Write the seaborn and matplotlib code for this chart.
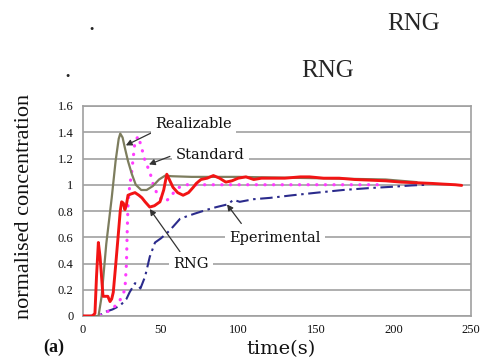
import matplotlib
matplotlib.use("Agg")
import matplotlib.pyplot as plt
import seaborn as sns
import pandas as pd

# ---- data ---------------------------------------------------------------
t_realizable = [0, 9, 10, 12, 15, 18.5, 21, 23, 24, 25.5, 27, 29, 31.5, 34, 37.5,
                41, 45, 49, 53, 57, 70, 100, 150, 195, 205, 215]
c_realizable = [0, 0, 0.0, 0.15, 0.55, 0.9, 1.18, 1.35, 1.39, 1.36, 1.28, 1.18, 1.08,
                1.0, 0.96, 0.96, 0.99, 1.04, 1.07, 1.065, 1.06, 1.06, 1.05, 1.04, 1.03, 1.02]

t_standard = [0, 10, 14, 19.5, 23.8, 27, 28, 28.5, 29, 30, 31.4, 33.5, 35.6, 37.8,
              40, 43, 45.3, 48.5, 52.8, 56, 59, 62, 65.7, 80, 120, 160, 192]
c_standard = [0, 0, 0.02, 0.06, 0.12, 0.2, 0.4, 0.65, 0.85, 0.98, 1.1, 1.33, 1.37, 1.28,
              1.18, 1.1, 1.0, 0.91, 0.87, 0.9, 0.95, 0.98, 1.0, 1.0, 1.0, 1.0, 1.0]

t_rng = [0, 6, 7.7, 8.7, 9.9, 11, 12.9, 14.5, 16, 17.4, 18.5, 19.5, 21, 22.8, 24, 24.9,
         26, 27, 28, 29, 31, 33.5, 36, 38, 40, 43, 46, 49.6, 52, 54, 56, 58, 61, 64.5,
         68, 71, 73, 76, 80, 84, 88, 92, 96, 100, 105, 110, 115, 120, 130, 140, 146,
         155, 165, 175, 185, 195, 205, 215, 225, 232, 240, 244]
c_rng = [0, 0, 0.02, 0.3, 0.56, 0.45, 0.15, 0.15, 0.15, 0.11, 0.13, 0.18, 0.38, 0.63, 0.8,
         0.87, 0.86, 0.81, 0.85, 0.92, 0.93, 0.94, 0.92, 0.9, 0.87, 0.83, 0.84, 0.87, 0.96,
         1.08, 1.03, 0.98, 0.94, 0.92, 0.94, 0.98, 1.01, 1.04, 1.05, 1.07, 1.05, 1.02, 1.03,
         1.05, 1.06, 1.04, 1.05, 1.05, 1.05, 1.06, 1.06, 1.05, 1.05, 1.04, 1.035, 1.03, 1.02,
         1.015, 1.01, 1.005, 1.0, 0.995]

t_exp = [0, 10, 14, 19, 24, 28, 30, 33.5, 35, 37, 40, 43, 46.4, 50, 54, 58, 62.5, 67, 72,
         80, 86, 93, 97, 101, 110, 120.5, 135, 151, 167.5, 185, 200, 212, 222]
c_exp = [0, 0, 0.03, 0.05, 0.08, 0.13, 0.18, 0.25, 0.24, 0.21, 0.3, 0.45, 0.56, 0.59, 0.63,
         0.68, 0.74, 0.76, 0.78, 0.81, 0.83, 0.85, 0.885, 0.87, 0.89, 0.9, 0.92, 0.94, 0.96,
         0.975, 0.985, 0.995, 1.0]

y_ticks = [0, 0.2, 0.4, 0.6, 0.8, 1.0, 1.2, 1.4, 1.6]
y_tick_labels = ["0", "0.2", "0.4", "0.6", "0.8", "1", "1.2", "1.4", "1.6"]
x_ticks = [0, 50, 100, 150, 200, 250]

# label text, label position, arrow start, arrow tip
labels = [
    ("Realizable", (71, 1.466), (44, 1.395), (27.6, 1.30)),
    ("Standard", (82, 1.23), (56, 1.216), (42.5, 1.155)),
    ("RNG", (69.6, 0.40), (62.5, 0.49), (43, 0.815)),
    ("Eperimental", (123.7, 0.597), (102, 0.705), (92.8, 0.85)),
]

# ---- figure -------------------------------------------------------------
sns.set_style("white")
plt.rcParams["font.family"] = ["Liberation Serif", "DejaVu Serif"]

fig = plt.figure(figsize=(4.85, 3.61), dpi=100)
ax = fig.add_axes([83 / 485, 1 - 316 / 361, 388 / 485, 210 / 361])

sns.lineplot(x=t_exp, y=c_exp, ax=ax, color="#2b2b8c", lw=1.5,
             linestyle=(0, (6, 2.2, 1.2, 2.2)), estimator=None, sort=False, zorder=2)
sns.lineplot(x=t_standard, y=c_standard, ax=ax, color="#ff3cff", lw=2.3,
             linestyle=(0, (0.1, 2.6)), dash_capstyle="round", estimator=None,
             sort=False, zorder=2)
sns.lineplot(x=t_realizable, y=c_realizable, ax=ax, color="#7d7d5e", lw=1.6,
             estimator=None, sort=False, zorder=3)
sns.lineplot(x=t_rng, y=c_rng, ax=ax, color="#f21414", lw=2.1,
             estimator=None, sort=False, zorder=4)

ax.set_xlim(0, 250)
ax.set_ylim(0, 1.6)
ax.set_xticks(x_ticks)
ax.set_yticks(y_ticks)
ax.set_yticklabels(y_tick_labels)
ax.set_xlabel("")
ax.set_ylabel("")
ax.yaxis.grid(True, color="#a8a8a8", lw=1.3)
ax.xaxis.grid(False)
ax.set_axisbelow(True)
for side in ["left", "bottom", "top", "right"]:
    ax.spines[side].set_color("#a0a0a0")
    ax.spines[side].set_linewidth(1.2)
ax.tick_params(axis="both", which="both", direction="out", length=3, width=1,
               color="#909090", labelsize=9, labelcolor="#111111")
ax.tick_params(axis="x", pad=3)
ax.tick_params(axis="y", pad=4)

for text, pos, start, tip in labels:
    ax.annotate("", xy=tip, xytext=start,
                arrowprops=dict(arrowstyle="-|>,head_length=0.35,head_width=0.18",
                                color="#333333", lw=0.9, shrinkA=0, shrinkB=0),
                zorder=6)
    ax.text(pos[0], pos[1], text, ha="center", va="center", fontsize=10.5,
            family="DejaVu Serif", color="#111111", zorder=7,
            bbox=dict(facecolor="white", edgecolor="none", pad=3))

fig.text(25 / 485, 1 - 206 / 361, "normalised concentration", rotation=90,
         ha="center", va="center", fontsize=16, color="#111111")
fig.text(281 / 485, 1 - 349 / 361, "time(s)", ha="center", va="center",
         fontsize=14, family="DejaVu Serif", color="#111111")
fig.text(54 / 485, 1 - 347 / 361, "(a)", ha="center", va="center",
         fontsize=13, fontweight="bold", color="#111111")

# heading lines above the chart
fig.text(92 / 485, 1 - 30 / 361, ".", ha="center", va="baseline", fontsize=18)
fig.text(414 / 485, 1 - 30 / 361, "RNG", ha="center", va="baseline", fontsize=18)
fig.text(67 / 485, 1 - 77 / 361, ".", ha="center", va="baseline", fontsize=18)
fig.text(328 / 485, 1 - 77 / 361, "RNG", ha="center", va="baseline", fontsize=18)

fig.savefig("out.png", dpi=100, facecolor="white")
